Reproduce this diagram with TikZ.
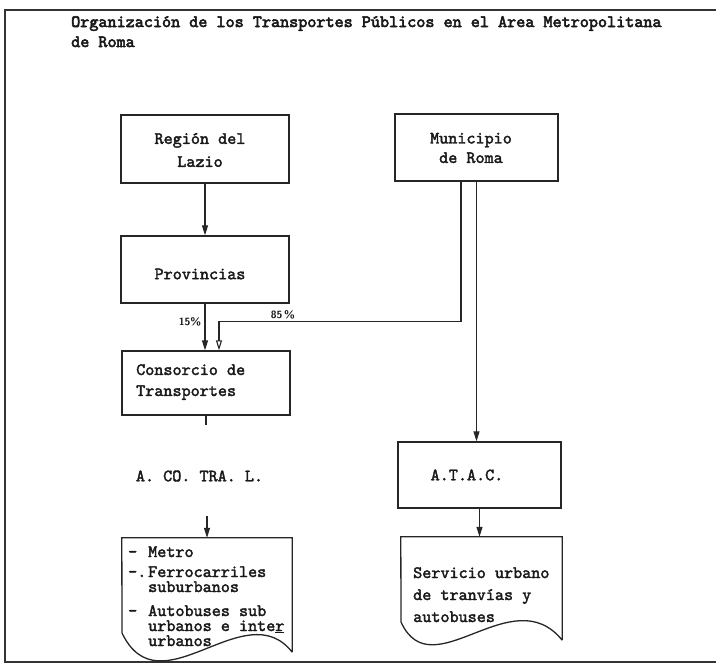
\documentclass[tikz,border=0pt]{standalone}
\usepackage{fontspec}
\newfontfamily\tw{lmmono10-regular.otf}[FakeBold=2.2]
\newfontfamily\twb{lmmono10-regular.otf}[FakeBold=3.2]
\usetikzlibrary{arrows.meta,calc}
\begin{document}
\begin{tikzpicture}[x=1pt,y=-1pt,
  every node/.style={font=\tw\fontsize{17.3}{23}\selectfont, inner sep=0pt, text=black!90},
  boxnode/.style={draw=black!85, line width=1.3pt, rectangle},
  docline/.style={draw=black!85, line width=1.3pt},
  conn/.style={draw=black!85, line width=1.1pt},
  arr/.style={conn, -{Triangle[length=10pt,width=6pt]}},
  arropen/.style={conn, -{Triangle[open,length=10pt,width=6pt]}},
  pct/.style={font=\sffamily\bfseries\fontsize{10.5}{11}\selectfont}
]
\useasboundingbox (0,0) rectangle (716,664);
% frame
\draw[line width=2pt, black!80] (716,10) -- (5,10) -- (5,662) -- (716,662);

% title
\node[anchor=base west, font=\twb\fontsize{17.3}{20}\selectfont] (title1) at (71,27) {Organización de los Transportes Públicos en el Area Metropolitana};
\node[anchor=base west, font=\twb\fontsize{17.3}{20}\selectfont] (title2) at (71,47) {de Roma};

% boxes
\node[boxnode, minimum width=168pt, minimum height=68pt] (reg) at (205,149) {};
\node[align=center] (regt) at (200,150) {Región del\\Lazio};

\node[boxnode, minimum width=163pt, minimum height=67pt] (mun) at (476.5,147.5) {};
\node[align=center, font=\tw\fontsize{17.3}{19.5}\selectfont] (munt) at (471,148) {Municipio\\de Roma};

\node[boxnode, minimum width=168pt, minimum height=67pt] (prov) at (205,269.5) {};
\node (provt) at (200,274) {Provincias};

\node[boxnode, minimum width=168pt, minimum height=64pt] (cons) at (206,383) {};
\node[anchor=west, align=left, font=\tw\fontsize{17.3}{21}\selectfont] (const) at (136,382) {Consorcio de\\Transportes};

\node (acotral) at (199.5,476) {A. CO. TRA. L.};

\node[boxnode, minimum width=163pt, minimum height=66pt] (atac) at (479.5,475) {};
\node (atact) at (467,475) {A.T.A.C.};

% document shapes
\node[minimum width=170pt, minimum height=114pt] (metro) at (207,595) {};
\draw[docline] (metro.south east) -- (metro.north east) -- (metro.north west) -- (122,633)
  .. controls (160,712) and (245,592) .. (metro.south east);
\node[anchor=base west, align=left, font=\tw\fontsize{17.3}{15}\selectfont] (metrot) at (128,646)
 {\makebox[20pt][l]{-}Metro\\[5pt]
  \makebox[20pt][l]{-.}Ferrocarriles\\
  \hspace*{20pt}suburbanos\\[9pt]
  \makebox[20pt][l]{-}Autobuses sub\\
  \hspace*{20pt}urbanos e inte\underline{r}\\
  \hspace*{20pt}urbanos};

\node[minimum width=161pt, minimum height=103pt] (serv) at (481.5,588.5) {};
\draw[docline] (serv.south east) -- (serv.north east) -- (serv.north west) -- (401,622)
  .. controls (432,690) and (512,578) .. (serv.south east);
\node[anchor=base west, align=left, font=\tw\fontsize{17.3}{22}\selectfont] (servt) at (413,622)
 {Servicio urbano\\de tranvías y\\autobuses};

% connectors
\draw[arr] (reg.south) -- (reg.south |- prov.north);
\draw[arr] (prov.south) -- (prov.south |- cons.north);
\draw[arropen] ([xshift=-15.5pt]mun.south) -- ++(0,140) -| ([xshift=13pt]cons.north);
\draw[arr] (mun.south) -- (mun.south |- atac.north);
\draw[conn] (cons.south) -- ++(0,9);
\coordinate (acs) at (207,516);
\draw[arr] (acs) -- (acs |- metro.north);
\draw[arr] (atac.south) -- (atac.south |- serv.north);

% labels
\node[pct] (p15) at (190,322) {15\%};
\node[pct] (p85) at (283,315) {85\,\%};
\end{tikzpicture}
\end{document}
